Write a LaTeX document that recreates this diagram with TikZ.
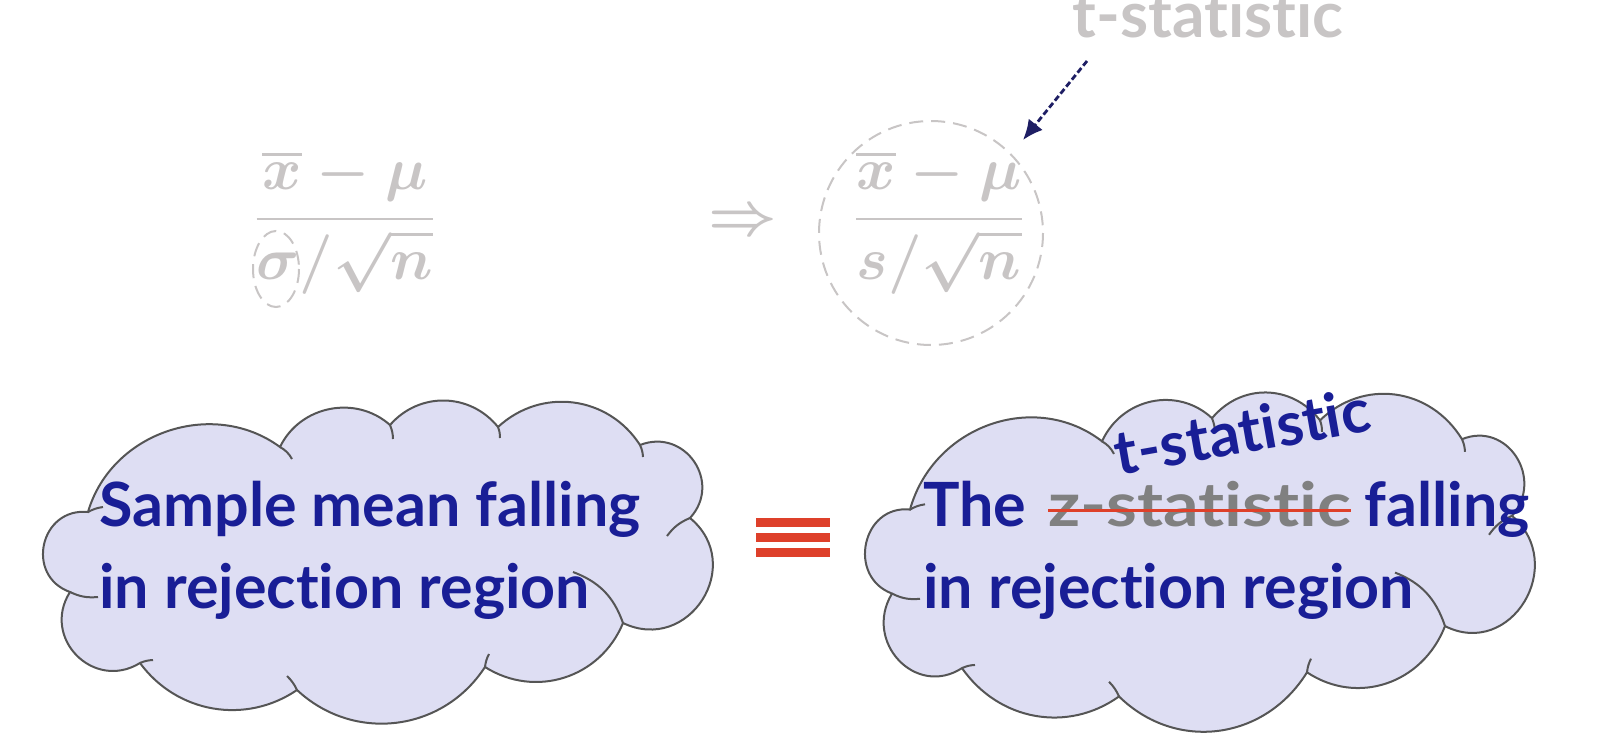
\documentclass[tikz,border=0pt]{standalone}
\usepackage{fontspec}
\setmainfont{Lato}[Ligatures={NoCommon}]
\usepackage{amsmath}
\usetikzlibrary{arrows.meta}
\definecolor{navytxt}{RGB}{25,30,150}
\definecolor{cloudfill}{RGB}{222,222,243}
\definecolor{cloudline}{RGB}{85,85,85}
\definecolor{fadegray}{RGB}{200,197,197}
\definecolor{zgray}{RGB}{128,128,128}
\definecolor{eqred}{RGB}{222,64,42}
\definecolor{arrownavy}{RGB}{30,30,100}
\newcommand{\cloudpath}{%
  (140,663) to[bend left=77,looseness=1.4] (70,592)
  to[bend left=83,looseness=1.5] (88,512)
  to[bend left=55,looseness=1.05] (280,447)
  to[bend left=53,looseness=1.05] (390,425)
  to[bend left=50,looseness=1.05] (498,427)
  to[bend left=50,looseness=1.05] (640,445)
  to[bend left=77,looseness=1.4] (690,518)
  to[bend left=83,looseness=1.5] (623,623)
  to[bend left=50,looseness=1.05] (485,667)
  to[bend left=50,looseness=1.05] (297,690)
  to[bend left=44,looseness=1] (140,663) -- cycle}
\newcommand{\cloudhooks}{%
  \draw[cloudedge] (70,592) to[bend right=15] (98,597);
  \draw[cloudedge] (88,512) to[bend left=10] (103,507);
  \draw[cloudedge] (280,447) to[bend left=15] (292,459);
  \draw[cloudedge] (390,425) to[bend left=10] (393,439);
  \draw[cloudedge] (498,427) to[bend left=10] (500,438);
  \draw[cloudedge] (640,445) to[bend left=10] (643,457);
  \draw[cloudedge] (690,518) to[bend right=15] (667,536);
  \draw[cloudedge] (623,623) to[bend right=25] (573,572);
  \draw[cloudedge] (485,667) to[bend left=10] (489,654);
  \draw[cloudedge] (297,690) to[bend right=10] (287,676);
  \draw[cloudedge] (140,663) to[bend left=10] (153,660);}
\begin{document}
\begin{tikzpicture}[x=0.5pt,y=-0.5pt,
  cloudedge/.style={draw=cloudline,line width=1pt},
  cloudbody/.style={fill=cloudfill,draw=cloudline,line width=1pt},
  cloudtxt/.style={text=navytxt,font=\fontsize{30.5}{36}\selectfont\bfseries,inner sep=0pt},
  strucktxt/.style={text=zgray,font=\fontsize{30.5}{36}\selectfont\bfseries,inner sep=0pt},
  toptxt/.style={text=fadegray,font=\fontsize{32}{38}\selectfont\bfseries,inner sep=0pt},
  formula/.style={text=fadegray,font=\fontsize{24.88}{30}\selectfont\boldmath,inner sep=0pt},
  fadedash/.style={draw=fadegray,line width=1pt,dash pattern=on 7pt off 4pt},
  eqbar/.style={fill=eqred},
  strike/.style={draw=eqred,line width=1.5pt},
  pointer/.style={draw=arrownavy,line width=1.4pt,dash pattern=on 3pt off 1.5pt,-{Latex[length=10pt,width=9pt]}}]
\useasboundingbox (0,0) rectangle (1600,734);
% top formulas
\node[formula,anchor=base] (lfrac) at (345,234) {\scalebox{1.2}{$\dfrac{\overline{x}-\mu}{\sigma/\sqrt{n}}$}};
\node[formula,anchor=base] (imp) at (743,234) {\scalebox{1.2}{$\Rightarrow$}};
\node[formula,anchor=base] (rfrac) at (939,234) {\scalebox{1.2}{$\dfrac{\overline{x}-\mu}{s/\sqrt{n}}$}};
\draw[fadedash] (276,269) ellipse[x radius=23,y radius=38];
\draw[fadedash] (931,233) circle[radius=112];
\node[toptxt,anchor=base west] (ttop) at (1072,37) {t-statistic};
\coordinate (astart) at (1087,61);
\coordinate (aend) at (1023,140);
\draw[pointer] (astart) -- (aend);
% left cloud
\path[cloudbody] \cloudpath;
\cloudhooks
\node[cloudtxt,anchor=base west] (l1) at (99,526) {Sample mean falling};
\node[cloudtxt,anchor=base west] (l2) at (99,608) {in rejection region};
% equivalence sign
\fill[eqbar] (756,518) rectangle (830,527);
\fill[eqbar] (756,533) rectangle (830,542);
\fill[eqbar] (756,548) rectangle (830,557);
% right cloud
\begin{scope}[shift={(822,0)}]
\begin{scope}[yshift=-561*0.5pt,yscale=1.05,yshift=561*0.5pt]
\path[cloudbody] \cloudpath;
\cloudhooks
\end{scope}
\end{scope}
\node[cloudtxt,anchor=base west] (r1a) at (923,526) {The};
\node[strucktxt,anchor=base west] (r1b) at (1048,526) {\scalebox{1.15}[1]{z-statistic}};
\draw[strike] ([yshift=8pt]r1b.base west) -- ([yshift=8pt]r1b.base east);
\node[cloudtxt,anchor=base east] (r1c) at (1530,526) {falling};
\node[cloudtxt,anchor=base west] (r2) at (923,608) {in rejection region};
\node[cloudtxt,rotate=10] (tnew) at (1242,431) {t-statistic};
\end{tikzpicture}
\end{document}
